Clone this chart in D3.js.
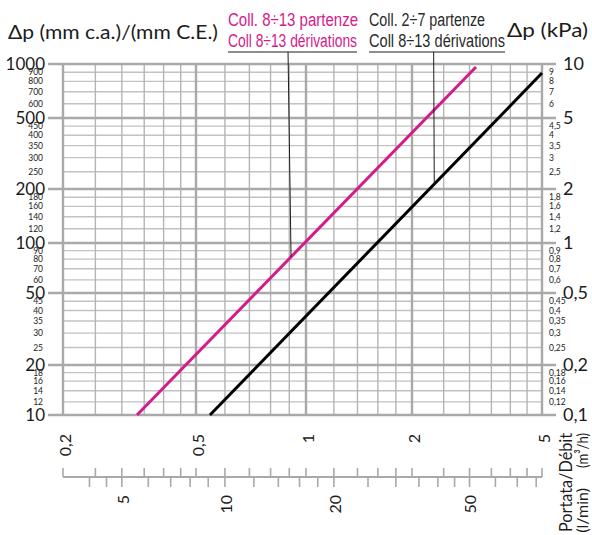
<!DOCTYPE html>
<html>
<head>
<meta charset="utf-8">
<script src="https://cdn.jsdelivr.net/npm/d3@7"></script>
<style>
body{margin:0;background:#fff}
svg{display:block}
</style>
</head>
<body>
<svg id="chart" width="592" height="535"></svg>
<script>
// pressure drop (mm c.a.), main and secondary grid lines
var dpMajor = [10, 20, 50, 100, 200, 500, 1000];
var dpMinor = [12, 14, 16, 18, 25, 30, 35, 40, 45, 60, 70, 80, 90,
               120, 140, 160, 180, 250, 300, 350, 400, 450, 600, 700, 800, 900];
// flow (m3/h)
var qMajor = [0.2, 0.5, 1, 2, 5];
var qMinor = [0.25, 0.3, 0.35, 0.4, 0.45, 0.6, 0.7, 0.8, 0.9,
              1.2, 1.4, 1.6, 1.8, 2.5, 3, 3.5, 4, 4.5];
// flow (l/min) secondary scale
var lminTicks = [4, 4.5, 5, 6, 7, 8, 9, 10, 12, 14, 16, 18, 20, 25, 30, 35, 40, 45, 50, 60, 70, 80];
var lminLabels = [5, 10, 20, 50];
// curves: end points (flow m3/h, dp mm c.a.)
var pinkQ = [0.333, 3.14], pinkDp = [10, 962];
var blackQ = [0.546, 5], blackDp = [10, 890];
// legend leaders: [flow at legend, flow on the curve]
var pinkLeader = [0.893, 0.91];
var blackLeader = [2.33, 2.34];

var PINK = "#d41b8c";
var INK = "#1c1c1c";
var NUM = "Lato, 'Noto Sans', sans-serif";
var NARROW = "'Liberation Sans Narrow', 'Arial Narrow', 'Liberation Sans', sans-serif";

var svg = d3.select("#chart");

// the printed grid is not a perfect log grid, so piecewise log scales
var y = d3.scaleLog().domain(dpMajor).range([415, 365, 293, 243, 189, 118, 64]);
var x = d3.scaleLog().domain(qMajor).range([63, 196, 306, 412, 542]);

var x0 = x(qMajor[0]), x1 = x(qMajor[qMajor.length - 1]);
var yTop = y(1000), yBot = y(10);

function fmt(v){ return String(+v.toFixed(3)).replace(".", ","); }

var grid = svg.append("g");

// minor grid
grid.selectAll("line.hmin").data(dpMinor).enter().append("line")
    .attr("x1", x0).attr("x2", x1)
    .attr("y1", function(d){ return y(d); })
    .attr("y2", function(d){ return y(d); })
    .attr("stroke", "#c2c2c2").attr("stroke-width", 1.4);
grid.selectAll("line.vmin").data(qMinor).enter().append("line")
    .attr("y1", yTop).attr("y2", yBot)
    .attr("x1", function(d){ return x(d); })
    .attr("x2", function(d){ return x(d); })
    .attr("stroke", "#b4b4b4").attr("stroke-width", 1.4);

// major grid, horizontal ones stick out on both sides
grid.selectAll("line.hmaj").data(dpMajor).enter().append("line")
    .attr("x1", x0 - 15).attr("x2", x1 + 14)
    .attr("y1", function(d){ return y(d); })
    .attr("y2", function(d){ return y(d); })
    .attr("stroke", "#a9a9a9").attr("stroke-width", 2.4);
grid.selectAll("line.vmaj").data(qMajor).enter().append("line")
    .attr("y1", yTop).attr("y2", yBot)
    .attr("x1", function(d){ return x(d); })
    .attr("x2", function(d){ return x(d); })
    .attr("stroke", "#a9a9a9").attr("stroke-width", 2.4);

// curves
var line = d3.line()
    .x(function(d){ return x(d[0]); })
    .y(function(d){ return y(d[1]); });

function pts(q, dp){ return q.map(function(v, i){ return [v, dp[i]]; }); }

svg.append("path").datum(pts(pinkQ, pinkDp)).attr("d", line)
    .attr("fill", "none").attr("stroke", PINK).attr("stroke-width", 3);
svg.append("path").datum(pts(blackQ, blackDp)).attr("d", line)
    .attr("fill", "none").attr("stroke", "#000").attr("stroke-width", 3);

// y of a curve at a given flow (straight in pixel space)
function curveY(q, dp, v){
    var ax = x(q[0]), bx = x(q[1]), ay = y(dp[0]), by = y(dp[1]);
    var t = (x(v) - ax) / (bx - ax);
    return ay + t * (by - ay);
}

// legends
var legY = 52;
function legend(x0l, x1l, lines, color, leader, q, dp){
    svg.append("line").attr("x1", x0l).attr("x2", x1l)
        .attr("y1", legY).attr("y2", legY)
        .attr("stroke", INK).attr("stroke-width", 1);
    svg.append("line")
        .attr("x1", x(leader[0])).attr("y1", legY)
        .attr("x2", x(leader[1])).attr("y2", curveY(q, dp, leader[1]))
        .attr("stroke", INK).attr("stroke-width", 1);
    lines.forEach(function(s, i){
        svg.append("text").attr("x", x0l).attr("y", 26 + i * 21)
            .attr("font-family", NARROW).attr("font-size", 18)
            .attr("fill", color)
            .attr("textLength", s.w).attr("lengthAdjust", "spacingAndGlyphs")
            .text(s.t);
    });
}
legend(228, 357, [{t: "Coll. 8÷13 partenze", w: 130}, {t: "Coll 8÷13 dérivations", w: 129}],
       PINK, pinkLeader, pinkQ, pinkDp);
legend(369, 505, [{t: "Coll. 2÷7 partenze", w: 116}, {t: "Coll 8÷13 dérivations", w: 136}],
       "#2a2a2a", blackLeader, blackQ, blackDp);

// axis titles
svg.append("text").attr("x", 8).attr("y", 39)
    .attr("font-family", NUM).attr("font-size", 20).attr("fill", INK)
    .attr("textLength", 210).attr("lengthAdjust", "spacingAndGlyphs")
    .text("Δp (mm c.a.)/(mm C.E.)");
svg.append("text").attr("x", 507).attr("y", 37)
    .attr("font-family", NUM).attr("font-size", 20).attr("fill", INK)
    .attr("textLength", 81).attr("lengthAdjust", "spacingAndGlyphs")
    .text("Δp (kPa)");

// left labels
svg.selectAll("text.lmaj").data(dpMajor).enter().append("text")
    .attr("x", 45).attr("y", function(d){ return y(d); })
    .attr("dy", "0.36em").attr("text-anchor", "end")
    .attr("font-family", NUM).attr("font-size", 17).attr("fill", INK)
    .text(function(d){ return d; });
svg.selectAll("text.lmin").data(dpMinor).enter().append("text")
    .attr("x", 43).attr("y", function(d){ return y(d); })
    .attr("dy", "0.36em").attr("text-anchor", "end")
    .attr("font-family", NUM).attr("font-size", 8.5).attr("fill", INK)
    .text(function(d){ return d; });

// right labels (kPa)
svg.selectAll("text.rmaj").data(dpMajor).enter().append("text")
    .attr("x", 563).attr("y", function(d){ return y(d); })
    .attr("dy", "0.36em")
    .attr("font-family", NUM).attr("font-size", 18).attr("fill", INK)
    .text(function(d){ return fmt(d / 100); });
svg.selectAll("text.rmin").data(dpMinor).enter().append("text")
    .attr("x", 549).attr("y", function(d){ return y(d); })
    .attr("dy", "0.36em")
    .attr("font-family", NUM).attr("font-size", 8.5).attr("fill", INK)
    .text(function(d){ return fmt(d / 100); });

// bottom labels (m3/h)
svg.selectAll("text.bq").data(qMajor).enter().append("text")
    .attr("transform", function(d){ return "translate(" + (x(d) + 2) + ",434) rotate(-90)"; })
    .attr("dy", "0.36em").attr("text-anchor", "end")
    .attr("font-family", NUM).attr("font-size", 16).attr("fill", INK)
    .text(function(d){ return fmt(d); });

// l/min scale
var axY = 477;
var lx = function(v){ return x(v * 60 / 1000); };
var ax = svg.append("g").attr("stroke", "#a9a9a9").attr("stroke-width", 1.6);
ax.append("line").attr("x1", x0).attr("x2", x1).attr("y1", axY).attr("y2", axY)
    .attr("stroke-width", 2.2);
ax.selectAll("line.up").data(qMajor.concat(qMinor)).enter().append("line")
    .attr("x1", function(d){ return x(d); }).attr("x2", function(d){ return x(d); })
    .attr("y1", axY - 9).attr("y2", axY);
ax.selectAll("line.dn").data(lminTicks).enter().append("line")
    .attr("x1", lx).attr("x2", lx)
    .attr("y1", axY).attr("y2", axY + 10);

svg.selectAll("text.bl").data(lminLabels).enter().append("text")
    .attr("transform", function(d){ return "translate(" + (lx(d) + 1) + ",495) rotate(-90)"; })
    .attr("dy", "0.36em").attr("text-anchor", "end")
    .attr("font-family", NUM).attr("font-size", 16).attr("fill", INK)
    .text(function(d){ return d; });

// flow axis title
function vtext(cx, cy, s, size, w){
    var t = svg.append("text")
        .attr("transform", "translate(" + cx + "," + cy + ") rotate(-90)")
        .attr("dy", "0.36em").attr("text-anchor", "end")
        .attr("font-family", NUM).attr("font-size", size).attr("fill", INK)
        .text(s);
    if(w)
        t.attr("textLength", w).attr("lengthAdjust", "spacingAndGlyphs");
}
vtext(566, 433, "Portata/Débit", 17, 99);
vtext(582, 433, "(m³/h)", 16, 35);
vtext(582, 488, "(l/min)", 16);
</script>
</body>
</html>
